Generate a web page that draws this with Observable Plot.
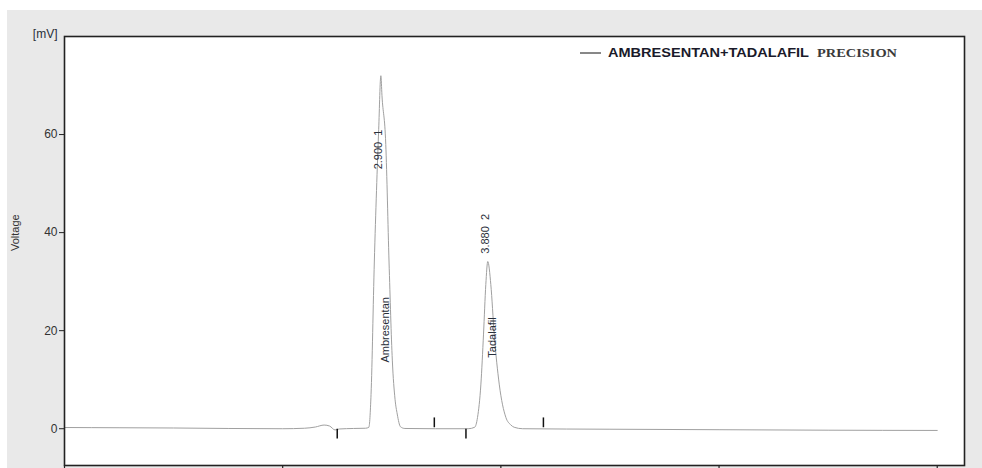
<!DOCTYPE html>
<html>
<head>
<meta charset="utf-8">
<script src="https://cdn.jsdelivr.net/npm/d3@7"></script>
<script src="https://cdn.jsdelivr.net/npm/@observablehq/plot@0.6"></script>
<style>
  html, body { margin: 0; padding: 0; background: #fff; overflow: hidden; }
  #panel { position: absolute; left: 7px; top: 10px; width: 975px; height: 470px; background: #e9e9e9; }
</style>
</head>
<body>
<div id="panel"></div>
<script>
// Detector trace: retention time (min) and signal (mV)
const time = [
  0.00, 0.50, 1.00, 1.50, 2.00, 2.20, 2.30, 2.38, 2.43, 2.48, 2.52, 2.65, 2.76,
  2.79, 2.81, 2.84, 2.88, 2.90, 2.91, 2.945, 2.975, 3.005, 3.03, 3.05, 3.08, 3.12,
  3.40, 3.70, 3.76, 3.786, 3.817, 3.841, 3.862, 3.88, 3.908, 3.939, 3.985, 4.046,
  4.09, 4.122, 4.20, 5.00, 6.00, 7.00, 8.00
];
const voltage = [
  0.25, 0.20, 0.15, 0.05, 0.00, 0.10, 0.35, 0.75, 0.55, -0.25, -0.05, 0.05, 0.10,
  0.3, 7, 34, 61, 72, 68, 58, 34, 14, 6, 3, 0.4, 0.05,
  0.0, 0.0, 0.3, 2.3, 9.1, 19.3, 29.4, 34.1, 29.4, 19.3, 9.1, 2.3,
  0.8, 0.3, 0.0, -0.1, -0.2, -0.3, -0.35
];

// Integrated peaks
const peakNames = ["Ambresentan", "Tadalafil"];
const peakTimes = [2.900, 3.880];
const peakNumbers = [1, 2];
const peakLabelLevel = [52.9, 35.7];   // mV where the retention-time tag begins
const nameLabelLevel = [13.5, 14.5];   // mV where the compound name begins

// Integration boundaries (peak start / peak end)
const boundaryTimes = [2.50, 3.39, 3.68, 4.39];
const boundaryKinds = ["start", "end", "start", "end"];

// Axes
const yTicks = [0, 20, 40, 60];
const xTicks = [0, 2, 4, 6, 8];

// Legend texts
const seriesName = "AMBRESENTAN+TADALAFIL";
const methodName = "PRECISION";

const trace = time.map((t, i) => ({t, v: voltage[i]}));
const peaks = peakTimes.map((t, i) => ({
  t,
  name: peakNames[i],
  tag: `${t.toFixed(3)}  ${peakNumbers[i]}`,
  at: peakLabelLevel[i],
  nameAt: nameLabelLevel[i]
}));
const boundaries = boundaryTimes.map((t, i) => ({t, kind: boundaryKinds[i]}));
const MARK_LEN = 2;   // mV length of boundary markers
const Y_MIN = -7.5, Y_MAX = 80;
const X_TICK_LEN = 1; // mV length of time-axis tick marks below the frame

const sans = "Arial, 'Liberation Sans', sans-serif";

// Legend drawn inside the plotting frame, top right
function legendMark(index, scales, values, dims) {
  const g = d3.create("svg:g").attr("text-anchor", "start");
  const x0 = dims.marginLeft + 516;
  const y0 = dims.marginTop + 17;
  g.append("line")
    .attr("x1", x0).attr("x2", x0 + 21)
    .attr("y1", y0).attr("y2", y0)
    .attr("stroke", "#111").attr("stroke-width", 1);
  g.append("text")
    .attr("x", x0 + 28).attr("y", y0).attr("dy", "0.35em")
    .attr("font-family", sans).attr("font-weight", "bold").attr("font-size", 12)
    .attr("fill", "#1a1a2a")
    .attr("textLength", 201).attr("lengthAdjust", "spacingAndGlyphs")
    .text(seriesName);
  g.append("text")
    .attr("x", x0 + 237).attr("y", y0).attr("dy", "0.35em")
    .attr("font-family", "'Liberation Serif', 'Times New Roman', serif")
    .attr("font-weight", "bold").attr("font-size", 12)
    .attr("fill", "#3a3a3a")
    .attr("textLength", 80).attr("lengthAdjust", "spacingAndGlyphs")
    .text(methodName);
  return g.node();
}

const chart = Plot.plot({
  width: 975,
  height: 490,
  marginLeft: 57,
  marginTop: 26,
  marginRight: 18,
  marginBottom: 35,
  style: {background: "transparent", fontFamily: sans, color: "#333", overflow: "visible"},
  x: {domain: [0, 8.25], axis: null},
  y: {domain: [Y_MIN, Y_MAX]},
  marks: [
    Plot.frame({fill: "white"}),
    Plot.axisY(yTicks, {tickSize: 5, tickPadding: 2, fontSize: 12, label: null, stroke: "#222"}),
    // time-axis tick marks hanging below the frame
    Plot.ruleX(xTicks, {x: d => d, y1: Y_MIN, y2: Y_MIN - X_TICK_LEN, stroke: "#222", strokeWidth: 1.2}),
    Plot.line(trace, {x: "t", y: "v", stroke: "#a0a0a0", strokeWidth: 1, curve: "monotone-x"}),
    Plot.ruleX(boundaries, {
      x: "t",
      y1: d => d.kind === "start" ? -0.1 : 0.2,
      y2: d => d.kind === "start" ? -0.1 - MARK_LEN : 0.2 + MARK_LEN,
      stroke: "#111",
      strokeWidth: 1.5
    }),
    Plot.text(peaks, {x: "t", y: "at", text: "tag", rotate: -90, textAnchor: "start", dx: -2, fontSize: 11, fill: "#2a2f3a"}),
    Plot.text(peaks, {x: "t", y: "nameAt", text: "name", rotate: -90, textAnchor: "start", dx: 5, fontSize: 11, fill: "#2a2f3a"}),
    Plot.text(["[mV]"], {frameAnchor: "top-left", text: d => d, dx: -7, dy: 1, textAnchor: "end", lineAnchor: "bottom", fontSize: 12, fill: "#2a2f3a"}),
    Plot.text(["Voltage"], {frameAnchor: "left", text: d => d, dx: -49, rotate: -90, fontSize: 11, fill: "#333"}),
    legendMark,
    Plot.frame({stroke: "#222", strokeWidth: 1.6})
  ]
});

document.getElementById("panel").appendChild(chart);
</script>
</body>
</html>
